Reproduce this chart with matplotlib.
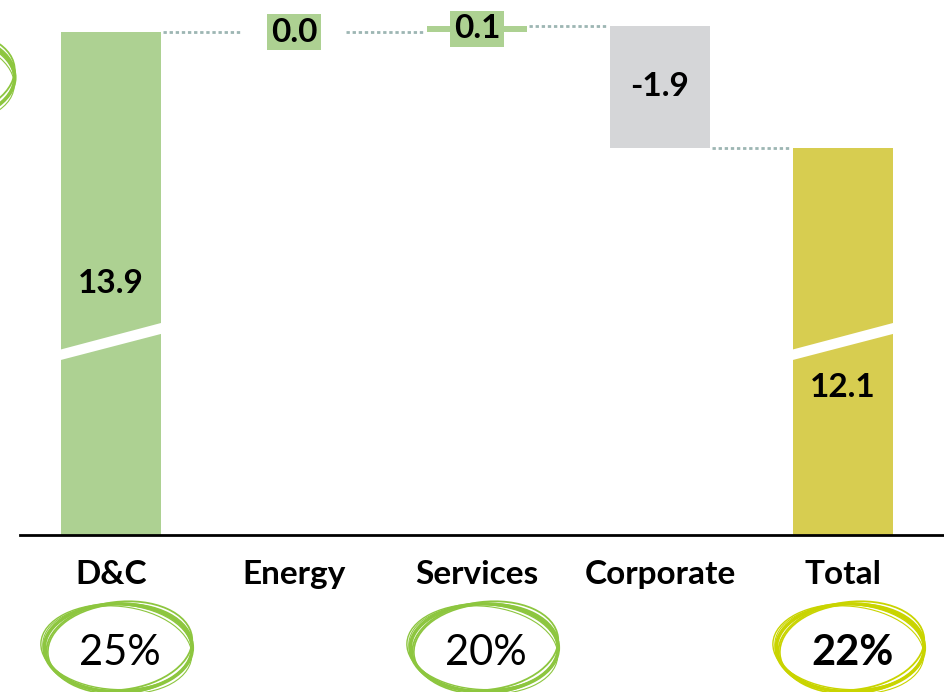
import numpy as np
import matplotlib.pyplot as plt
from matplotlib.patches import Ellipse, Polygon
from matplotlib.transforms import ScaledTranslation

# waterfall data
categories = ['D&C', 'Energy', 'Services', 'Corporate', 'Total']
values = [13.9, 0.0, 0.1, -1.9, 12.1]
kinds = ['start', 'delta', 'delta', 'delta', 'total']
margins = ['25%', '', '20%', '', '22%']

bar_colors = ['#ADD192', '#ADD192', '#ADD192', '#D5D6D8', '#D7CD50']
circle_colors = ['#8DC63F', None, '#8DC63F', None, '#C9D400']
green_box = '#ADD192'
dot_color = '#9DB6B3'

# broken axis: everything below BREAK is squeezed
BREAK = 8.8
SQUEEZE = 0.3075


def forward(v):
    v = np.asarray(v, dtype=float)
    return np.where(v < BREAK, v * SQUEEZE, BREAK * SQUEEZE + (v - BREAK))


def inverse(t):
    t = np.asarray(t, dtype=float)
    return np.where(t < BREAK * SQUEEZE, t / SQUEEZE, t - BREAK * SQUEEZE + BREAK)


def scribble(fig, ax, x, y, color, w=1.48, h=0.88):
    # hand drawn looking ring, sized in inches, centred at (x data, y axes)
    trans = fig.dpi_scale_trans + ScaledTranslation(x, y, ax.get_xaxis_transform())
    for dw, dh, dx, dy, ang, lw in [
        (1.00, 1.00, 0.00, 0.00, 0, 2.6),
        (0.98, 1.02, 0.02, -0.01, 4, 1.2),
        (1.02, 0.97, -0.02, 0.01, -3, 1.0),
        (0.99, 1.00, 0.01, 0.02, 7, 1.3),
        (1.01, 0.99, -0.01, -0.02, -6, 0.8),
    ]:
        e = Ellipse((dx, dy), w * dw, h * dh, angle=ang, fill=False,
                    ec=color, lw=lw, transform=trans, clip_on=False, zorder=5)
        ax.add_patch(e)


plt.rcParams['font.family'] = ['Lato', 'DejaVu Sans']

fig = plt.figure(figsize=(9.44, 6.92), dpi=100)
ax = fig.add_axes([20 / 944, 157 / 692, 924 / 944, 535 / 692])
ax.set_yscale('function', functions=(forward, inverse))

x = np.arange(len(categories))
width = 0.546

bottoms, heights, levels = [], [], []
running = 0.0
for v, kind in zip(values, kinds):
    if kind == 'delta':
        bottoms.append(running)
        running += v
    else:
        bottoms.append(0.0)
        running = v
    heights.append(v)
    levels.append(running)

ax.bar(x, heights, width=width, bottom=bottoms, color=bar_colors, zorder=2)

# dotted connectors between bars
for i in range(len(categories) - 1):
    ax.plot([x[i] + width / 2 + 0.01, x[i + 1] - width / 2 - 0.01],
            [levels[i], levels[i]], color=dot_color, lw=2.0,
            linestyle=(0, (1.2, 1.0)), zorder=1)

# break marks on the full-height bars
for i, kind in enumerate(kinds):
    if kind == 'delta':
        continue
    x0 = x[i] - width / 2 - 0.02
    x1 = x[i] + width / 2 + 0.02
    band = Polygon([(x0, 8.79), (x1, 9.23), (x1, 9.40), (x0, 8.96)],
                   closed=True, fc='white', ec='none', zorder=3)
    ax.add_patch(band)

# value labels
total_label_y = {0: 10.0, 4: 7.47}
for i, (v, kind) in enumerate(zip(values, kinds)):
    txt = f'{v:.1f}'
    if kind != 'delta':
        ax.text(x[i], total_label_y[i], txt, ha='center', va='center',
                fontsize=24, fontweight='bold', zorder=4)
    elif abs(v) < 0.5:
        ax.text(x[i], bottoms[i] + v / 2, txt, ha='center', va='center',
                fontsize=24, fontweight='bold', zorder=4,
                bbox=dict(boxstyle='square,pad=0.1', fc=green_box, ec='none'))
    else:
        ax.text(x[i], bottoms[i] + v / 2, txt, ha='center', va='center',
                fontsize=24, fontweight='bold', zorder=4)

# circled margins below the axis
for i, m in enumerate(margins):
    if not m:
        continue
    scribble(fig, ax, x[i] + 0.04, -0.211, circle_colors[i])
    ax.text(x[i] + 0.05, -0.221, m, transform=ax.get_xaxis_transform(),
            ha='center', va='center', fontsize=30,
            fontweight='bold' if kinds[i] == 'total' else 'normal')

# ring peeking in from the left edge
scribble(fig, ax, -0.93, 0.855, '#8DC63F')

ax.set_xlim(-0.497, 4.552)
ax.set_ylim(0, 14.4)
ax.set_xticks(x)
ax.set_xticklabels(categories, fontsize=24, fontweight='bold')
ax.tick_params(axis='x', length=0, pad=18)
ax.set_yticks([])
ax.yaxis.set_minor_locator(plt.NullLocator())
for side in ['top', 'left', 'right']:
    ax.spines[side].set_visible(False)
ax.spines['bottom'].set_linewidth(2)
ax.spines['bottom'].set_color('black')

fig.savefig('out.png', dpi=100)
